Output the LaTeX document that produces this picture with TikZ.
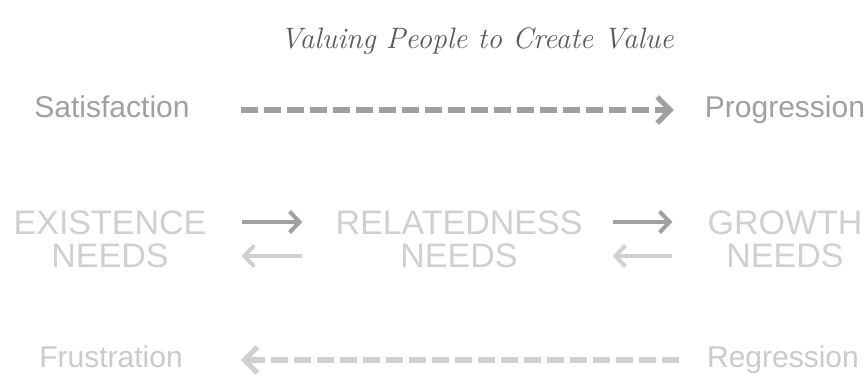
\documentclass[tikz,border=0pt]{standalone}
\usepackage{fontspec}
\newfontfamily\ergfont{Liberation Sans}
\usetikzlibrary{arrows.meta}
\definecolor{titlegray}{HTML}{5A5A5A}
\definecolor{upgray}{HTML}{A0A0A0}
\definecolor{needgray}{HTML}{D0D0D0}
\definecolor{downgray}{HTML}{CBCBCB}
\tikzset{
  lbl/.style={inner sep=0pt, text height=22pt, text depth=6pt,
    font=\ergfont\fontsize{30}{30}\selectfont},
  need/.style={inner sep=0pt, align=center, text=needgray,
    font=\ergfont\fontsize{34}{33}\selectfont},
  dasharrow/.style={line width=6pt, dash pattern=on 17pt off 6pt,
    -{Straight Barb[length=13pt,width=26pt,line width=5pt]}},
  needarrow/.style={line width=4pt,
    -{Straight Barb[length=10pt,width=21pt]}}
}
\begin{document}
\begin{tikzpicture}[x=1pt,y=1pt]
    \useasboundingbox[fill=white] (0,0) rectangle (868,383);
    \node[font=\fontsize{29.5}{29.5}\selectfont\itshape, text=titlegray] (title) at (477,342) {Valuing People to Create Value};
    % top row
    \node[lbl, text=upgray] (sat) at (112,273) {Satisfaction};
    \node[lbl, text=upgray] (prog) at (785,273) {Progression};
    \draw[dasharrow, upgray, shorten <=51pt, shorten >=31pt] (sat) -- (prog);
    % needs
    \node[need] (ex) at (110,144) {EXISTENCE\\NEEDS};
    \node[need] (rel) at (459,144) {RELATEDNESS\\NEEDS};
    \node[need] (grow) at (785,144) {GROWTH\\NEEDS};
    \draw[needarrow, upgray, shorten <=35pt, shorten >=33pt]
        ([yshift=17pt]ex.east) -- ([yshift=17pt]rel.west);
    \draw[needarrow, needgray, shorten <=33pt, shorten >=35pt]
        ([yshift=-17pt]rel.west) -- ([yshift=-17pt]ex.east);
    \draw[needarrow, upgray, shorten <=30pt, shorten >=35pt]
        ([yshift=17pt]rel.east) -- ([yshift=17pt]grow.west);
    \draw[needarrow, needgray, shorten <=35pt, shorten >=30pt]
        ([yshift=-17pt]grow.west) -- ([yshift=-17pt]rel.east);
    % bottom row
    \node[lbl, text=downgray] (fru) at (111,23) {Frustration};
    \node[lbl, text=downgray] (reg) at (783,23) {Regression};
    \draw[dasharrow, needgray, shorten <=28pt, shorten >=58pt] (reg) -- (fru);
\end{tikzpicture}
\end{document}
